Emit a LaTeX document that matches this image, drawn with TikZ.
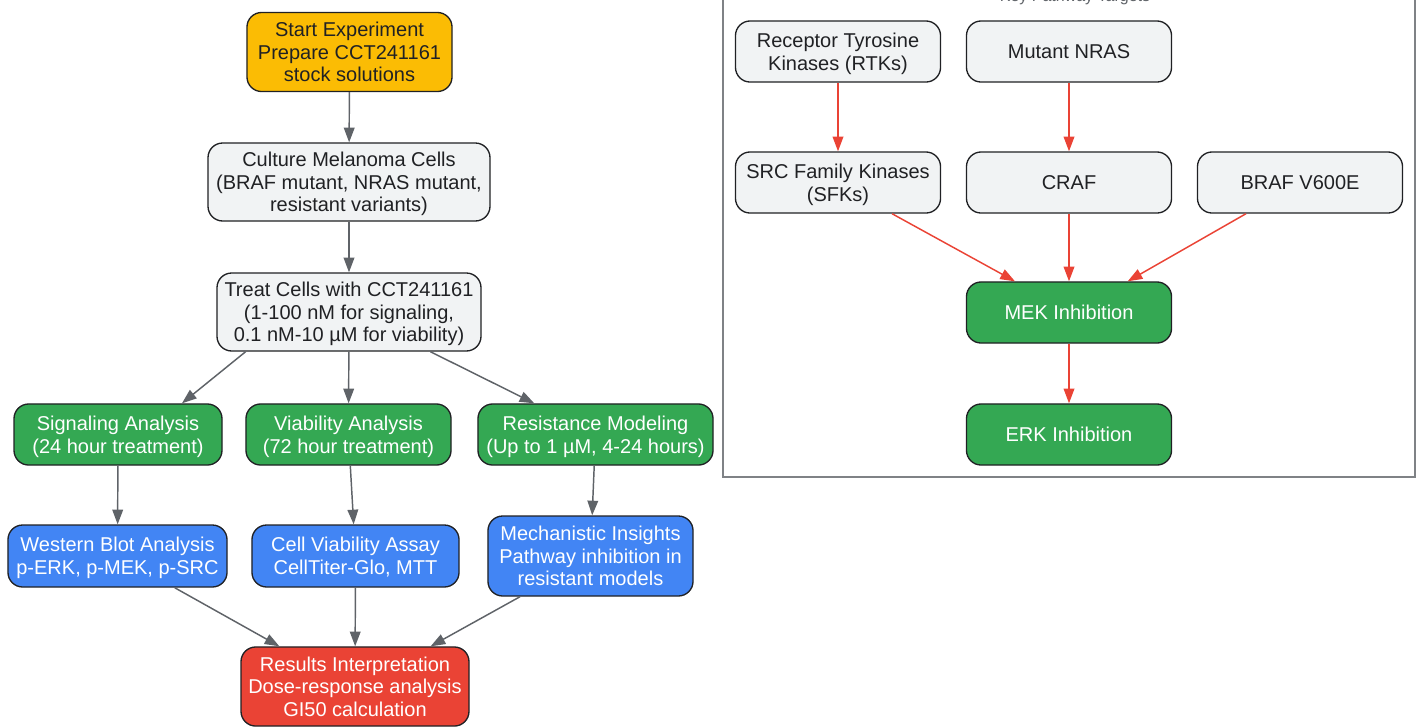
\documentclass[tikz,border=0pt]{standalone}
\usepackage{fontspec}
\setmainfont{Liberation Sans}
\usetikzlibrary{arrows.meta}
\definecolor{ink}{HTML}{202124}
\definecolor{paper}{HTML}{F1F3F4}
\definecolor{gold}{HTML}{FBBC04}
\definecolor{leaf}{HTML}{34A853}
\definecolor{sky}{HTML}{4285F4}
\definecolor{alert}{HTML}{EA4335}
\definecolor{edge}{HTML}{5F6368}
\tikzset{
  box/.style={draw=ink,line width=1pt,rounded corners=11pt,align=center,inner sep=0pt,
    font=\fontsize{15}{16.9}\selectfont,text=ink,text depth=0pt,minimum height=45.8pt},
  plain/.style={box,fill=paper},
  prep/.style={box,fill=gold},
  done/.style={box,fill=leaf,text=white},
  read/.style={box,fill=sky,text=white},
  stop/.style={box,fill=alert,text=white},
  flow/.style={draw=edge,line width=1.1pt,-{Triangle[length=11pt,width=8pt]}},
  hit/.style={flow,draw=alert}
}
\begin{document}
\begin{tikzpicture}[x=0.75pt,y=-0.75pt]
\useasboundingbox (0,0) rectangle (1420,726);
% workflow
\node[prep,minimum width=153.8pt,minimum height=59.3pt] (start) at (349.5,52) {Start Experiment\\Prepare CCT241161\\stock solutions};
\node[plain,minimum width=211.5pt,minimum height=58.5pt] (culture) at (349,182) {Culture Melanoma Cells\\(BRAF mutant, NRAS mutant,\\resistant variants)};
\node[plain,minimum width=198pt,minimum height=58.5pt] (treat) at (349,312) {Treat Cells with CCT241161\\(1-100 nM for signaling,\\0.1 nM-10 µM for viability)};
\node[done,minimum width=156pt] (signal) at (118,434.5) {Signaling Analysis\\(24 hour treatment)};
\node[done,minimum width=153.8pt] (viab) at (348.5,434.5) {Viability Analysis\\(72 hour treatment)};
\node[done,minimum width=176.3pt] (resist) at (595.5,434.5) {Resistance Modeling\\(Up to 1 µM, 4-24 hours)};
\node[read,minimum width=164.3pt,minimum height=46.5pt] (blot) at (117.5,556) {Western Blot Analysis\\p-ERK, p-MEK, p-SRC};
\node[read,minimum width=155.3pt,minimum height=46.5pt] (assay) at (355.5,556) {Cell Viability Assay\\CellTiter-Glo, MTT};
\node[read,minimum width=153.8pt,minimum height=60pt] (insight) at (590.5,556) {Mechanistic Insights\\Pathway inhibition in\\resistant models};
\node[stop,minimum width=171pt,minimum height=59.3pt] (results) at (355,686.5) {Results Interpretation\\Dose-response analysis\\GI50 calculation};
\draw[flow] (start) -- (culture);
\draw[flow] (culture) -- (treat);
\draw[flow] (treat.201) -- (signal.26);
\draw[flow] (treat) -- (viab);
\draw[flow] (treat.334) -- (resist.153);
\draw[flow] (signal) -- (blot);
\draw[flow] (viab) -- (assay);
\draw[flow] (resist) -- (insight);
\draw[flow] (blot.331) -- (results.152);
\draw[flow] (assay) -- (results);
\draw[flow] (insight.210) -- (results.28);
% pathway panel
\draw[draw=edge!80,line width=1pt] (723,-5) rectangle (1415,477);
\node[anchor=base,font=\fontsize{12}{14}\selectfont,text=edge] (title) at (1075,1) {Key Pathway Targets};
\node[plain,minimum width=153.8pt] (rtk) at (838,51.5) {Receptor Tyrosine\\Kinases (RTKs)};
\node[plain,minimum width=153.8pt] (nras) at (1069,51.5) {Mutant NRAS};
\node[plain,minimum width=153.8pt] (sfk) at (838,182.5) {SRC Family Kinases\\(SFKs)};
\node[plain,minimum width=153.8pt] (craf) at (1069,182.5) {CRAF};
\node[plain,minimum width=153.8pt] (braf) at (1300,182.5) {BRAF V600E};
\node[done,minimum width=153.8pt] (mek) at (1069,312.5) {MEK Inhibition};
\node[done,minimum width=153.8pt] (erk) at (1069,434.5) {ERK Inhibition};
\draw[hit] (rtk) -- (sfk);
\draw[hit] (nras) -- (craf);
\draw[hit] (sfk.330) -- (mek.150);
\draw[hit] (craf) -- (mek);
\draw[hit] (braf.210) -- (mek.28);
\draw[hit] (mek) -- (erk);
\end{tikzpicture}
\end{document}
